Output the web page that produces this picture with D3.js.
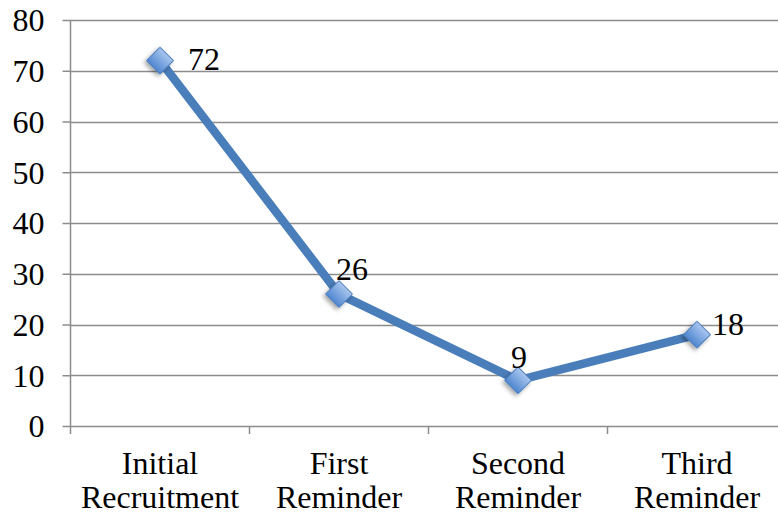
<!DOCTYPE html>
<html>
<head>
<meta charset="utf-8">
<script src="https://cdn.jsdelivr.net/npm/d3@7"></script>
<style>
  html, body { margin: 0; padding: 0; background: #fff; overflow: hidden; }
  svg { display: block; }
</style>
</head>
<body>
<svg id="chart" width="778" height="514"></svg>
<script>
// Responses per recruitment wave
const categories = [["Initial", "Recruitment"], ["First", "Reminder"], ["Second", "Reminder"], ["Third", "Reminder"]];
const values = [72, 26, 9, 18];
const yTicks = [0, 10, 20, 30, 40, 50, 60, 70, 80];

// Label placement relative to each point (dx, dy, anchor)
const labelPlacement = [
  { dx: 28, dy: 9, anchor: "start" },
  { dx: -3, dy: -14, anchor: "start" },
  { dx: 1, dy: -12, anchor: "middle" },
  { dx: 15, dy: 0, anchor: "start" }
];

const W = 778, H = 514;
const plotLeft = 70.5, plotRight = 786.5, plotTop = 20, plotBottom = 426;
const fontSize = "32px";
const serif = '"Liberation Serif", monospace';

const svg = d3.select("#chart");

const x = d3.scaleBand().domain(d3.range(categories.length)).range([plotLeft, plotRight]);
const y = d3.scaleLinear().domain([0, 80]).range([plotBottom, plotTop]);

const defs = svg.append("defs");
const grad = defs.append("linearGradient").attr("id", "mk").attr("x1", 0).attr("y1", 0).attr("x2", 0).attr("y2", 1);
grad.append("stop").attr("offset", "0%").attr("stop-color", "#a9c6ef");
grad.append("stop").attr("offset", "100%").attr("stop-color", "#4f86d0");
const shadow = defs.append("filter").attr("id", "sh").attr("x", "-50%").attr("y", "-50%").attr("width", "200%").attr("height", "200%");
shadow.append("feDropShadow").attr("dx", 0).attr("dy", 3).attr("stdDeviation", 2.2).attr("flood-color", "#000").attr("flood-opacity", 0.35);

// Horizontal gridlines
svg.append("g").selectAll("line").data(yTicks.filter(d => d > 0)).join("line")
  .attr("x1", plotLeft).attr("x2", W)
  .attr("y1", d => Math.round(y(d)) + 0.5).attr("y2", d => Math.round(y(d)) + 0.5)
  .attr("stroke", "#8c8c8c").attr("stroke-width", 1.5);

// Y axis
const yAxis = svg.append("g").attr("transform", `translate(${plotLeft},0)`)
  .call(d3.axisLeft(y).tickValues(yTicks).tickSize(8).tickPadding(18).tickFormat(d3.format("d")));
yAxis.style("font-family", serif).style("font-size", fontSize);
yAxis.select(".domain").attr("stroke", "#8c8c8c").attr("stroke-width", 1.5).attr("d", `M0,${plotTop}V${plotBottom}`);
yAxis.selectAll(".tick line").attr("stroke", "#8c8c8c").attr("stroke-width", 1.5);
yAxis.selectAll(".tick text").style("font-family", serif).style("font-size", fontSize)
  .attr("fill", "#000").attr("dy", "0.34em");

// X axis baseline and category ticks
const xb = svg.append("g");
xb.append("line").attr("x1", plotLeft).attr("x2", W).attr("y1", plotBottom + 0.5).attr("y2", plotBottom + 0.5)
  .attr("stroke", "#8c8c8c").attr("stroke-width", 1.5);
xb.selectAll("line.t").data(d3.range(categories.length + 1)).join("line").attr("class", "t")
  .attr("x1", i => plotLeft + i * x.step()).attr("x2", i => plotLeft + i * x.step())
  .attr("y1", plotBottom).attr("y2", plotBottom + 8)
  .attr("stroke", "#8c8c8c").attr("stroke-width", 1.5);

// Category labels (two lines each)
const cl = svg.append("g").selectAll("text").data(categories).join("text")
  .attr("text-anchor", "middle")
  .style("font-family", serif).style("font-size", fontSize).attr("fill", "#000")
  .attr("transform", (d, i) => `translate(${x(i) + x.bandwidth() / 2},0)`);
cl.selectAll("tspan").data(d => d).join("tspan")
  .attr("x", 0).attr("y", (d, j) => 474 + j * 34).text(d => d);

// Series line
const pts = values.map((v, i) => [x(i) + x.bandwidth() / 2, y(v)]);
svg.append("path").attr("d", d3.line()(pts))
  .attr("fill", "none").attr("stroke", "#4a7ebb").attr("stroke-width", 8.5)
  .attr("stroke-linejoin", "round");

// Diamond markers
const diamond = d3.symbol().type(d3.symbolSquare).size(19 * 19);
svg.append("g").selectAll("path").data(pts).join("path")
  .attr("d", diamond)
  .attr("transform", d => `translate(${d[0]},${d[1]}) rotate(45)`)
  .attr("fill", "url(#mk)").attr("stroke", "#4a7ebb").attr("stroke-width", 1)
  .attr("filter", "url(#sh)");

// Value labels
svg.append("g").selectAll("text").data(values).join("text")
  .attr("x", (d, i) => pts[i][0] + labelPlacement[i].dx)
  .attr("y", (d, i) => pts[i][1] + labelPlacement[i].dy)
  .attr("text-anchor", (d, i) => labelPlacement[i].anchor)
  .style("font-family", serif).style("font-size", fontSize).attr("fill", "#000")
  .text(d => d);
</script>
</body>
</html>
